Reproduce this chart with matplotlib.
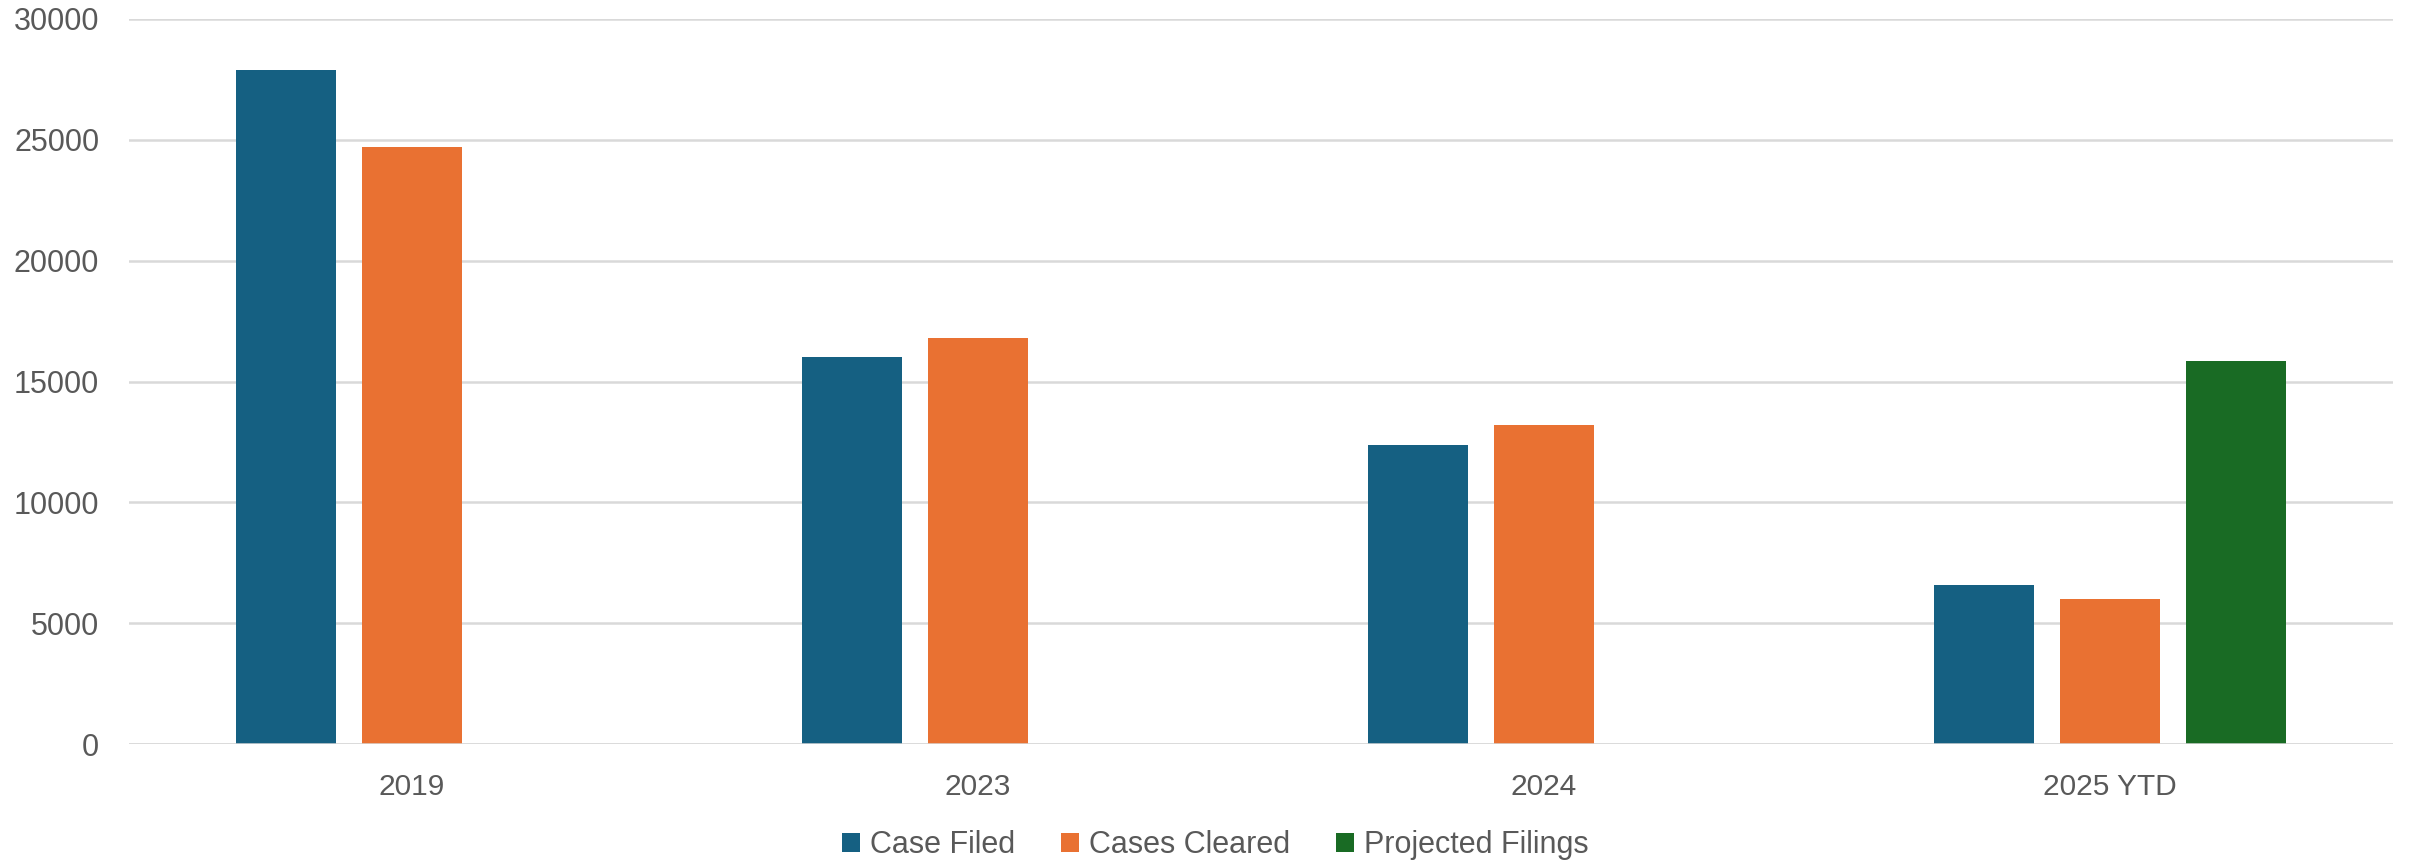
import numpy as np
import matplotlib
matplotlib.use("Agg")
import matplotlib.pyplot as plt

years = ["2019", "2023", "2024", "2025 YTD"]
casesFiled = [27890, 16000, 12360, 6560]
casesCleared = [24710, 16780, 13220, 6020]
projectedFilings = [0, 0, 0, 15830]
seriesNames = ["Case Filed", "Cases Cleared", "Projected Filings"]
yTicks = [0, 5000, 10000, 15000, 20000, 25000, 30000]

colors = ["#156082", "#E97132", "#196B24"]
textColor = "#595959"

plt.rcParams['font.family'] = ['Liberation Sans', 'DejaVu Sans']

fig = plt.figure(figsize=(24.15, 8.66), dpi=100)
# plot area in pixels: x 129..2393, y 19..744
ax = fig.add_axes([129 / 2415, 1 - 744 / 866, (2393 - 129) / 2415, (744 - 19) / 866])

x = np.arange(len(years))
pitch = 0.2226
width = 0.1767
allSeries = [casesFiled, casesCleared, projectedFilings]
for i, values in enumerate(allSeries):
    heights = [v if v > 0 else np.nan for v in values]
    ax.bar(x + (i - 1) * pitch, heights, width, color=colors[i],
           label=seriesNames[i], zorder=2)

ax.set_xlim(-0.5, len(years) - 0.5)
ax.set_ylim(0, 30000)
ax.set_yticks(yTicks)
ax.set_yticklabels([str(t) for t in yTicks])
ax.set_xticks(x)
ax.set_xticklabels(years)

ax.yaxis.grid(True, color="#d9d9d9", linewidth=1.8, zorder=0)
ax.set_axisbelow(True)
ax.axhline(0, color="#d9d9d9", linewidth=1.8, zorder=3)
for spine in ax.spines.values():
    spine.set_visible(False)
ax.tick_params(axis='y', length=0, pad=21.5, labelsize=22, labelcolor=textColor)
ax.tick_params(axis='x', length=0, pad=21, labelsize=21.5, labelcolor=textColor)

fig.legend(loc='center', bbox_to_anchor=(1215 / 2415, 1 - 845 / 866), ncol=3, frameon=False,
           fontsize=22, labelcolor=textColor, handlelength=0.6, handleheight=0.6,
           handletextpad=0.32, columnspacing=1.5)

fig.savefig("out.png", dpi=100)
